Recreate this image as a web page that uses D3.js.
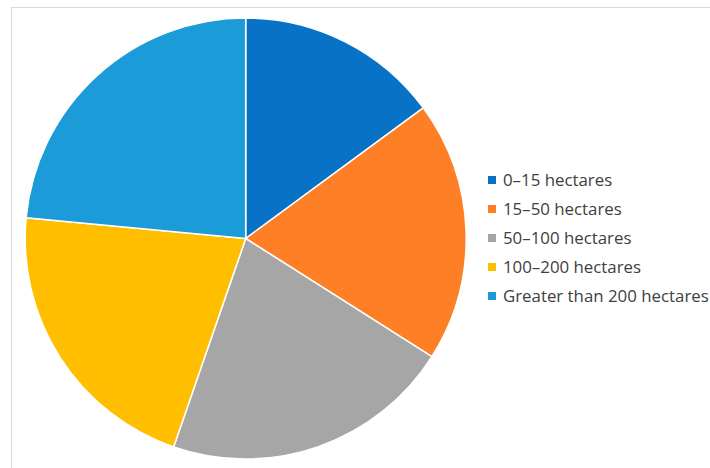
<!DOCTYPE html>
<html><head><meta charset="utf-8">
<script src="https://cdn.jsdelivr.net/npm/d3@7"></script>
<style>body{margin:0;background:#fff;}svg{display:block;}</style>
</head><body>
<script>
const categories = ["0–15 hectares","15–50 hectares","50–100 hectares","100–200 hectares","Greater than 200 hectares"];
const values = [14.9, 19.1, 21.3, 21.2, 23.5];
const colors = ["#0872c6","#fe7f26","#a6a6a6","#ffbf00","#1b9bd7"];

const W = 710, H = 468;
const svg = d3.select("body").append("svg").attr("width", W).attr("height", H);
svg.append("rect").attr("x", 11.5).attr("y", 7.5).attr("width", W).attr("height", H)
  .attr("fill", "none").attr("stroke", "#d9d9d9").attr("stroke-width", 1);

const cx = 245.7, cy = 238.5, r = 220.5;
const pie = d3.pie().sort(null).value(d => d)(values);
const arc = d3.arc().innerRadius(0).outerRadius(r);
const g = svg.append("g").attr("transform", `translate(${cx},${cy})`);
g.selectAll("path").data(pie).join("path")
  .attr("d", arc).attr("fill", (d,i) => colors[i])
  .attr("stroke", "#fff").attr("stroke-width", 1.5).attr("stroke-linejoin", "round");

const lg = svg.append("g");
const rows = lg.selectAll("g").data(categories).join("g")
  .attr("transform", (d,i) => `translate(488,${180 + i*29})`);
rows.append("rect").attr("x", 0).attr("y", -4).attr("width", 8).attr("height", 8)
  .attr("fill", (d,i) => colors[i]);
const texts = rows.append("text").attr("x", 15).attr("y", 0).attr("dy", "0.35em")
  .attr("font-family", "'Open Sans', sans-serif").attr("font-size", 15)
  .attr("fill", "#404040").text(d => d);
// scale font so longest label spans the same width as in the reference
const longest = texts.nodes()[4].getComputedTextLength();
const fs = 15 * 206 / longest;
texts.attr("font-size", fs);
</script>
</body></html>
